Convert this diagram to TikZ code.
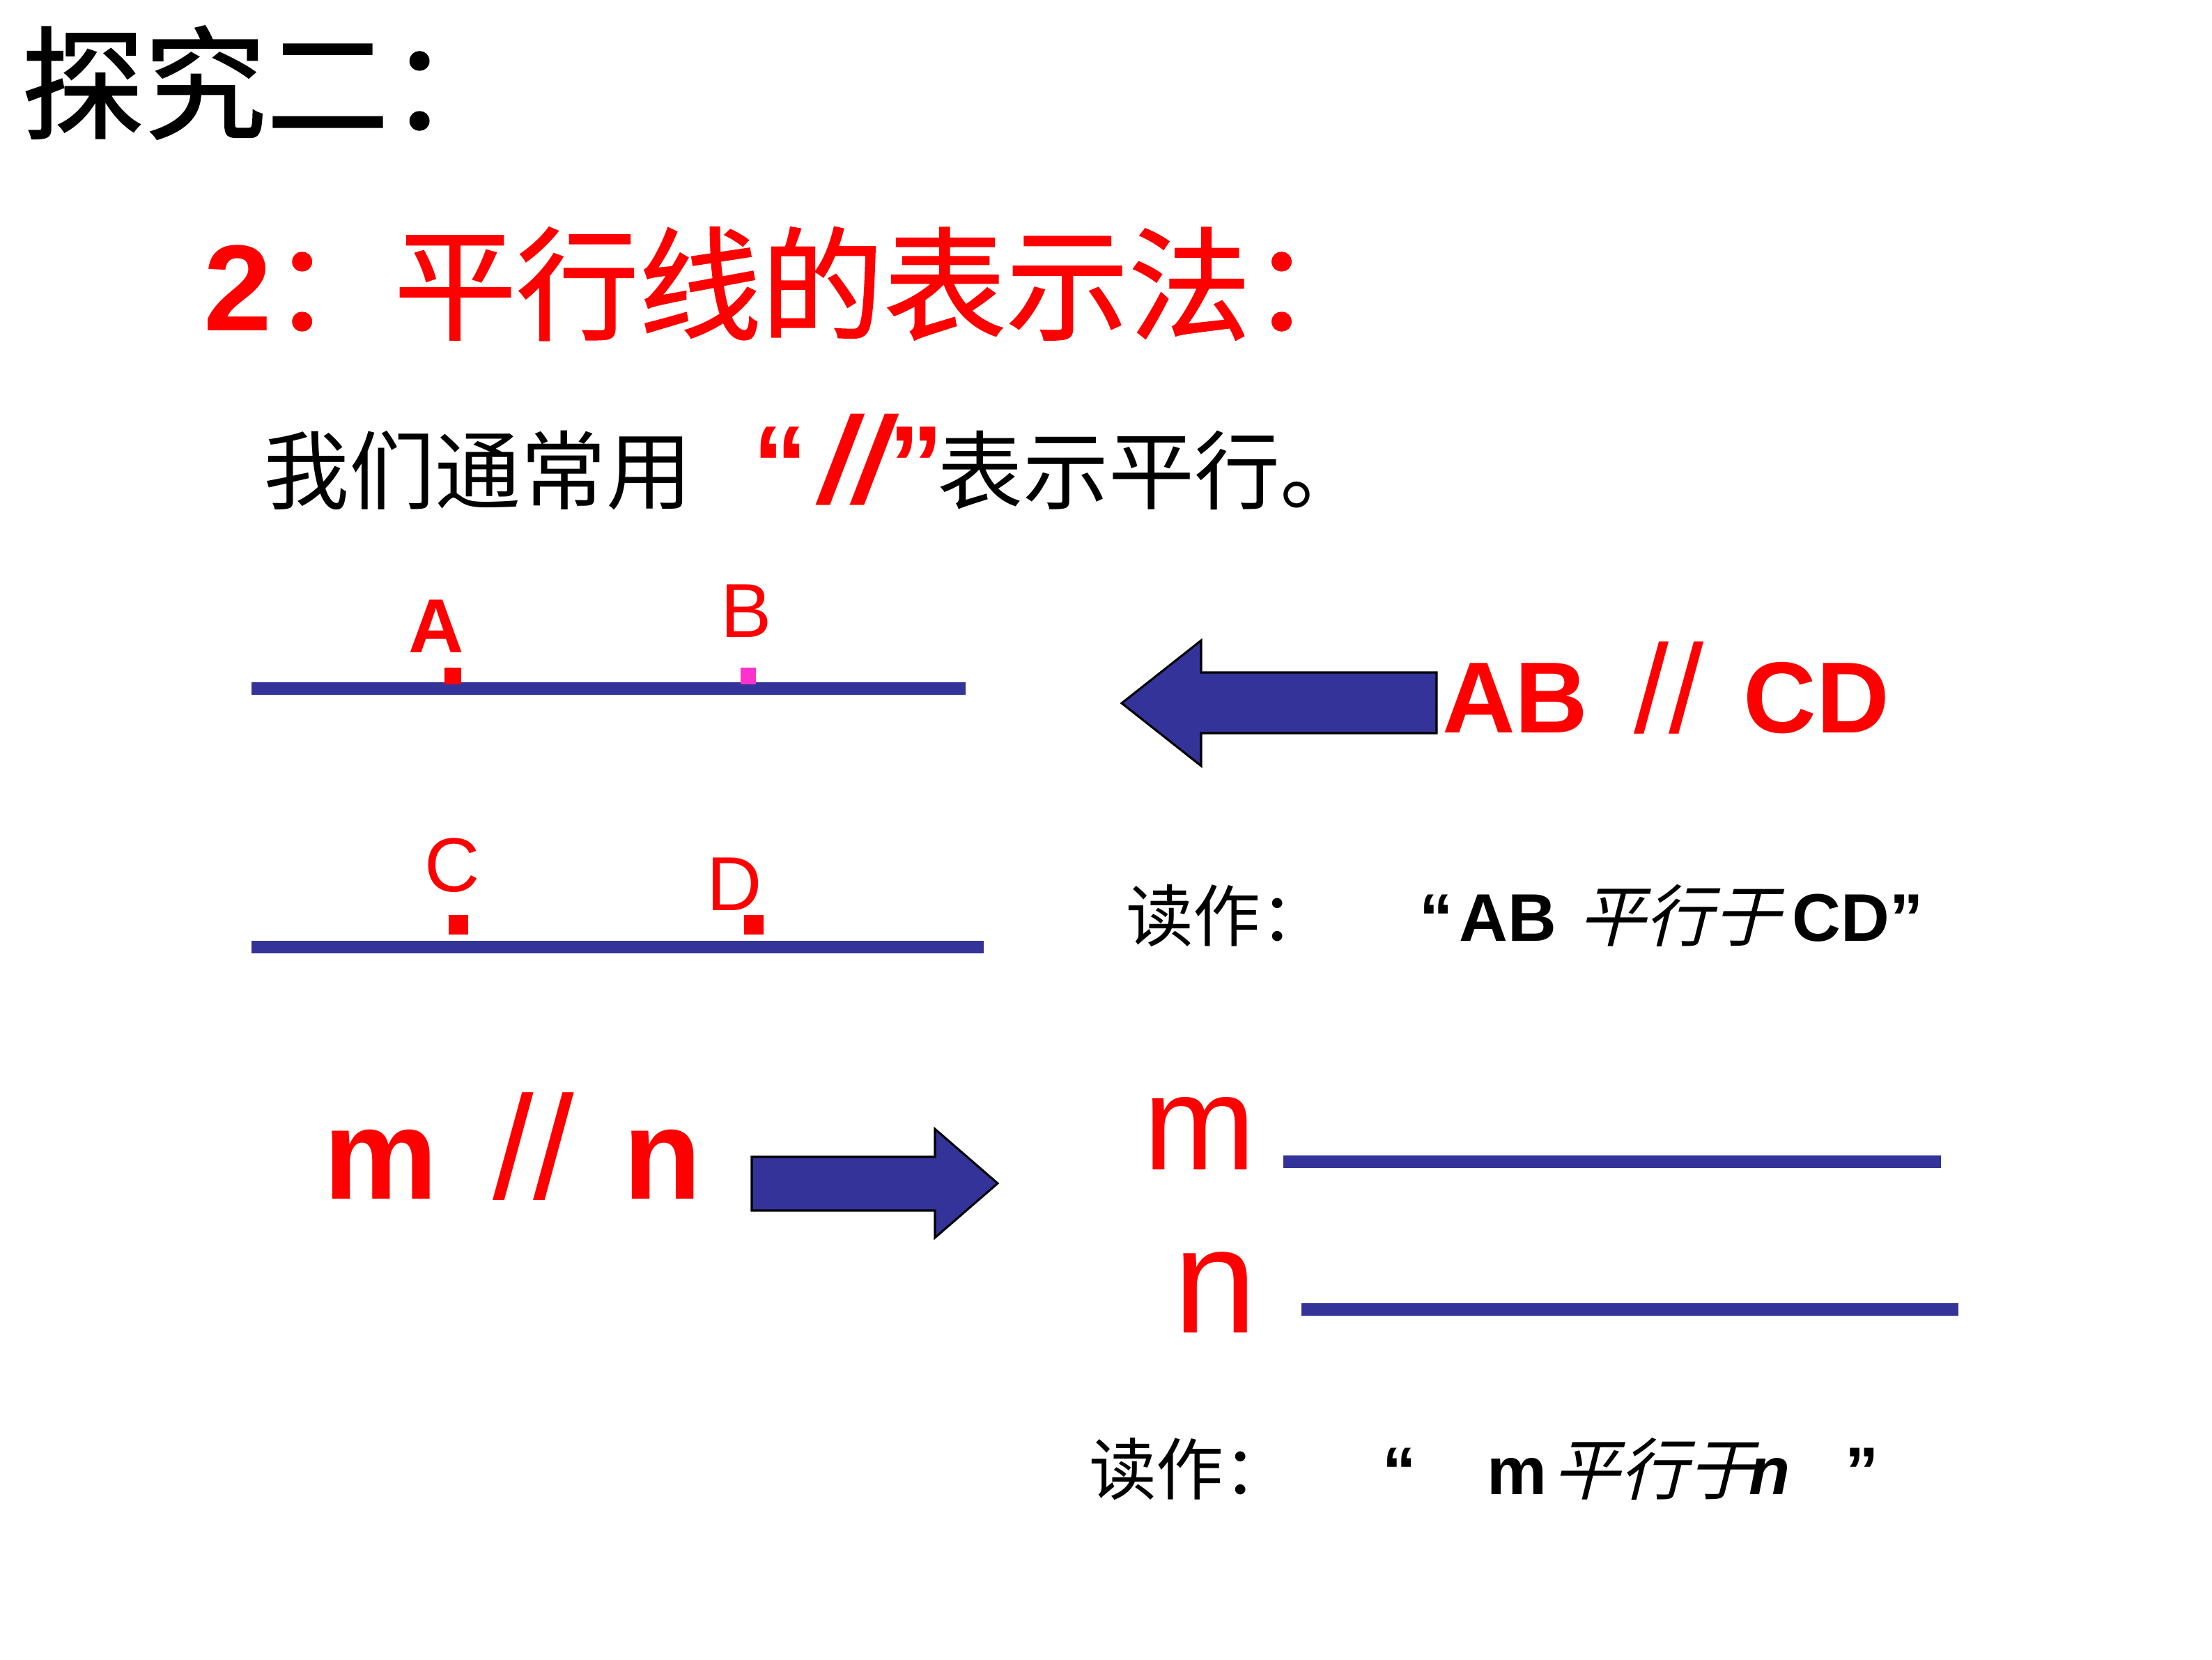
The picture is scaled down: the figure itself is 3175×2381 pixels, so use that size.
\documentclass[tikz,border=0pt]{standalone}
\usepackage{fontspec}
\setmainfont{Liberation Sans}
\newfontfamily\cjk{Noto Sans CJK SC}
\newfontfamily\cjkbold[FakeBold=1.2]{Noto Sans CJK SC}
\newfontfamily\cjkslant[FakeSlant=0.25]{Noto Sans CJK SC}
\definecolor{lineblue}{HTML}{333399}
\definecolor{ptmagenta}{HTML}{FF33CC}
\newcommand{\setsize}[1]{\fontsize{#1}{#1}\selectfont}

\begin{document}
\begin{tikzpicture}[x=0.08mm, y=-0.08mm,
  txt/.style={inner sep=0pt, outer sep=0pt, anchor=base west},
  parline/.style={line width=4pt, draw=lineblue},
  ptmark/.style={rectangle, fill=red, inner sep=0pt, minimum width=5.6pt, minimum height=5.4pt},
  fatarrow/.style={fill=lineblue, draw=black, line width=0.7pt, line join=miter}
]
  \useasboundingbox (0,0) rectangle (3175,2381);

  % headings
  \node[txt] (title) at (31,186) {\setsize{40}\cjkbold 探究二：};
  \node[txt, red] (head) at (292,474) {\setsize{40}{\bfseries 2}{\cjkbold ：平行线的表示法：}};
  \node[txt] (intro) at (378,721) {\setsize{28}\cjk 我们通常用\hspace{20pt}{\color{red}\setsize{36}\rmfamily\bfseries “\hspace{4pt}{\itshape\setsize{40}//}”}\hspace{-2pt}表示平行。};

  % the two lines AB and CD
  \coordinate (ab-l) at (361,988);
  \coordinate (ab-r) at (1386,988);
  \coordinate (cd-l) at (361,1359);
  \coordinate (cd-r) at (1412,1359);
  \draw[parline] (ab-l) -- (ab-r);
  \draw[parline] (cd-l) -- (cd-r);

  \node[ptmark] (markA) at (650,970) {};
  \node[ptmark, fill=ptmagenta, minimum width=5pt] (markB) at (1074,970) {};
  \node[ptmark, minimum width=6.5pt, minimum height=6.4pt] (markC) at (658,1327) {};
  \node[ptmark, minimum width=6.5pt, minimum height=6.4pt] (markD) at (1082,1327) {};

  \node[txt, red] (labA) at (586,936) {\setsize{25}\bfseries A};
  \node[txt, red] (labB) at (1034,914) {\setsize{25}B};
  \node[txt, red] (labC) at (609,1279) {\setsize{25}C};
  \node[txt, red] (labD) at (1014,1306) {\setsize{25}D};

  % left arrow and notation
  \draw[fatarrow] (2062,965) -- (1724,965) -- (1724,919) -- (1610,1009)
    -- (1724,1099) -- (1724,1052) -- (2062,1052) -- cycle;
  \node[txt, red] (abcd) at (2070,1051) {\setsize{33}\bfseries AB\hspace{15pt}{\mdseries\setsize{41}//}\hspace{13pt}CD};
  \node[txt] (read1) at (1616,1350) {\setsize{22}\cjk 读作：\hspace{30pt}{\rmfamily\bfseries “\hspace{2pt}AB}\hspace{7pt}{\cjkslant 平行于}\hspace{4pt}{\rmfamily\bfseries CD”}};

  % m // n and right arrow
  \node[txt, red] (mn) at (464,1720) {\setsize{42}\bfseries m\hspace{18pt}{\mdseries\setsize{48}//}\hspace{16pt}n};
  \draw[fatarrow] (1079,1660) -- (1342,1660) -- (1342,1620) -- (1432,1698)
    -- (1342,1776) -- (1342,1737) -- (1079,1737) -- cycle;

  % the two lines m and n
  \node[txt, red] (mlab) at (1641,1678) {\setsize{44}m};
  \node[txt, red] (nlab) at (1684,1912) {\setsize{49}n};
  \coordinate (m-l) at (1842,1667);
  \coordinate (m-r) at (2786,1667);
  \coordinate (n-l) at (1868,1879);
  \coordinate (n-r) at (2811,1879);
  \draw[parline] (m-l) -- (m-r);
  \draw[parline] (n-l) -- (n-r);

  \node[txt] (read2) at (1563,2144) {\setsize{22}\cjk 读作：\hspace{30pt}{\rmfamily\bfseries “}\hspace{23pt}{\rmfamily\bfseries m}\hspace{2pt}{\cjkslant 平行于}\hspace{-2pt}{\rmfamily\bfseries\itshape n}\hspace{18pt}{\rmfamily\bfseries ”}};
\end{tikzpicture}
\end{document}
